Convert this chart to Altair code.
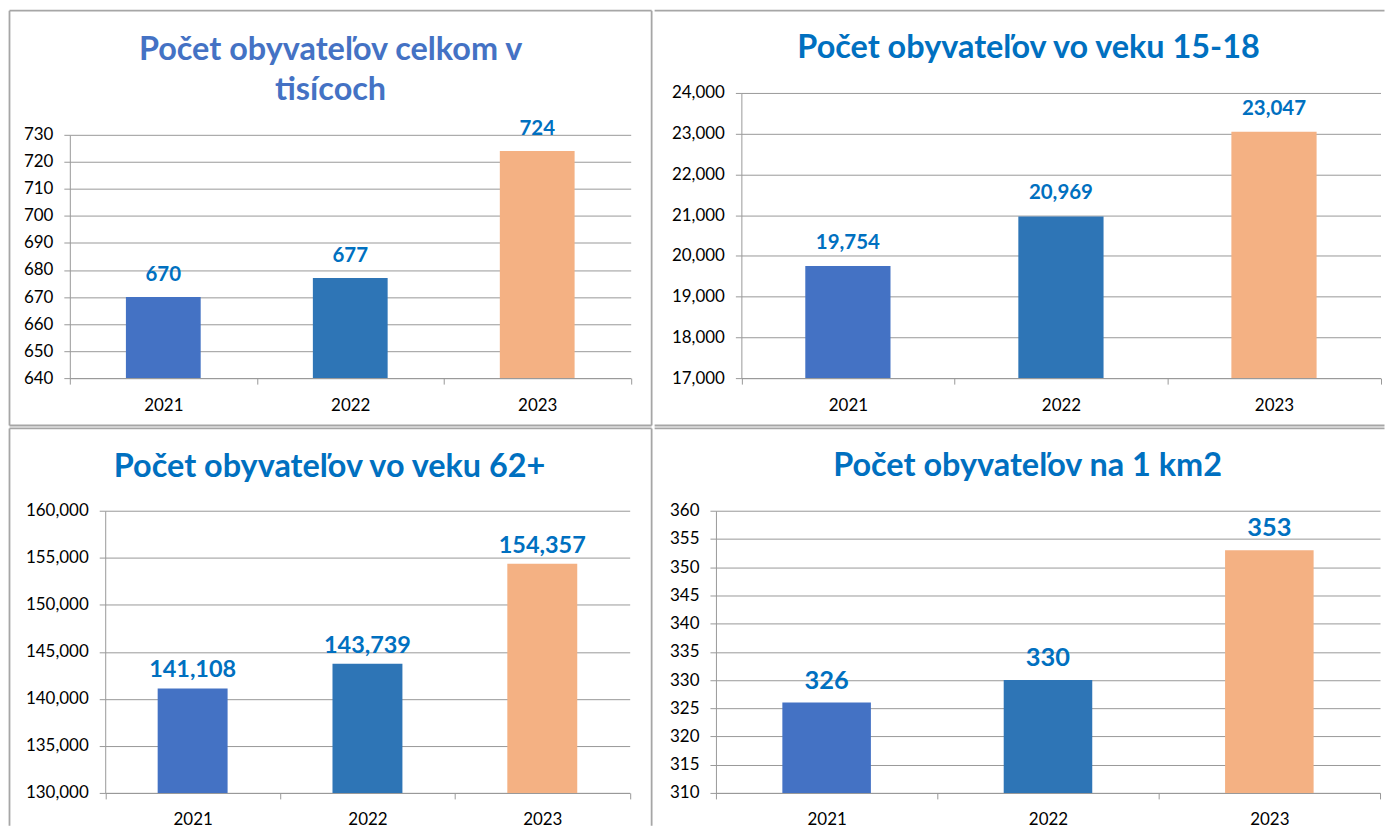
import altair as alt
import pandas as pd

# ---- data -------------------------------------------------------------
years = ["2021", "2022", "2023"]
bar_colors = ["#4472C4", "#2E75B6", "#F4B183"]

title_total = ["Počet obyvateľov celkom v", "tisícoch"]
title_15_18 = "Počet obyvateľov vo veku 15-18"
title_62 = "Počet obyvateľov vo veku 62+"
title_km2 = "Počet obyvateľov na 1 km2"

total_thousands = [670, 677, 724]
age_15_18 = [19754, 20969, 23047]
age_62_plus = [141108, 143739, 154357]
per_km2 = [326, 330, 353]

ticks_total = [640, 650, 660, 670, 680, 690, 700, 710, 720, 730]
ticks_15_18 = [17000, 18000, 19000, 20000, 21000, 22000, 23000, 24000]
ticks_62 = [130000, 135000, 140000, 145000, 150000, 155000, 160000]
ticks_km2 = [310, 315, 320, 325, 330, 335, 340, 345, 350, 355, 360]

FONT = "Lato"
GRID = "#999999"
BORDER = "#A6A6A6"
LABEL_BLUE = "#0070C0"
AX_SIZE = 17


def one_row():
    return alt.Data(values=[{"k": 1}])


def panel(values, ticks, fmt, title, title_color, title_x, title_y, title_size,
          label_size, label_dy, w, h, x_range, y_top, box, borders):
    df = pd.DataFrame({"year": years, "value": values})
    base = alt.Chart(df)
    x = alt.X("year:N", title=None, sort=years,
              scale=alt.Scale(paddingInner=0, paddingOuter=0, range=x_range),
              axis=alt.Axis(labelAngle=0, tickBand="extent", domainColor=GRID,
                            tickColor=GRID, tickSize=6, labelPadding=13,
                            labelFontSize=AX_SIZE, labelFont=FONT,
                            labelColor="#000000", grid=False))
    y = alt.Y("value:Q", title=None,
              scale=alt.Scale(domain=[ticks[0], ticks[-1]], zero=False, nice=False,
                              range=[h, y_top]),
              axis=alt.Axis(values=ticks, tickCount=len(ticks) + 1, format=fmt,
                            grid=True, gridColor=GRID, gridWidth=1,
                            domainColor=GRID, tickColor=GRID, tickSize=6,
                            labelPadding=11, labelFontSize=AX_SIZE, labelFont=FONT,
                            labelColor="#000000", labelOverlap=False,
                            offset=-x_range[0]))
    bars = base.mark_bar(width=alt.RelativeBandSize(0.4), clip=True).encode(
        x=x, y=y,
        color=alt.Color("year:N", scale=alt.Scale(domain=years, range=bar_colors),
                        legend=None),
    )
    labels = base.mark_text(baseline="alphabetic", dy=label_dy, font=FONT,
                            fontWeight="bold", fontSize=label_size,
                            color=LABEL_BLUE).encode(
        x=alt.X("year:N", sort=years), y="value:Q",
        text=alt.Text("value:Q", format=fmt),
    )
    bx0, by0, bx1, by1 = box
    bound = alt.Chart(one_row()).mark_rect(fill="white", fillOpacity=0, strokeWidth=0).encode(
        x=alt.value(bx0), x2=alt.value(bx1), y=alt.value(by0), y2=alt.value(by1))
    layers = [bound]
    for (a, a2, b, b2) in borders:
        layers.append(alt.Chart(one_row()).mark_rule(color=BORDER, strokeWidth=1.8).encode(
            x=alt.value(a), x2=alt.value(a2), y=alt.value(b), y2=alt.value(b2)))
    ttl = alt.Chart(one_row()).mark_text(font=FONT, fontWeight="bold", fontSize=title_size,
                                         color=title_color, align="center",
                                         baseline="middle", lineHeight=40).encode(
        x=alt.value(title_x), y=alt.value(title_y), text=alt.value(title))
    layers += [bars, labels, ttl]
    return alt.layer(*layers).properties(width=w, height=h)


TS = 32.5
# every panel has its view origin at (61.5, 84) inside its cell
# top-left cell 646 x 419
p1 = panel(total_thousands, ticks_total, "d", title_total, "#4472C4", 261.5, -43, TS,
           20.5, -16, 562.5, 286, [0, 562.5], 42,
           (-61.5, -84, 584.5, 335),
           [(-60.5, 583.5, -82.5, -82.5), (-60.5, -60.5, -82.5, 333.5),
            (583.5, 583.5, -82.5, 333.5), (-60.5, 583.5, 333.5, 333.5)])
# top-right cell 732 x 419
p2 = panel(age_15_18, ticks_15_18, ",d", title_15_18, LABEL_BLUE, 313.5, -45, TS,
           20.5, -17, 666.5, 286, [25.5, 666.5], 0,
           (-61.5, -84, 670.5, 335),
           [(-61.5, 670.5, -82.5, -82.5), (-61.5, 670.5, 333.5, 333.5)])
# bottom-left cell 646 x 400
p3 = panel(age_62_plus, ticks_62, ",d", title_62, LABEL_BLUE, 260.5, -44, TS,
           23.5, -11, 561.5, 283, [35.5, 561.5], 0,
           (-61.5, -84, 584.5, 316),
           [(-60.5, 583.5, -82.5, -82.5), (-60.5, -60.5, -82.5, 316),
            (583.5, 583.5, -82.5, 316)])
# bottom-right cell 732 x 400
p4 = panel(per_km2, ticks_km2, "d", title_km2, LABEL_BLUE, 312.5, -45, TS,
           25.5, -14, 666, 283, [0, 666], 0,
           (-61.5, -84, 670.5, 316),
           [(-61.5, 670.5, -82.5, -82.5)])

chart = alt.concat(p1, p2, p3, p4, columns=2, spacing=0, align="none",
                   bounds="full").properties(padding=0, background="white").configure_view(
    stroke="transparent", strokeWidth=0)

chart.save("out.html", embed_options={"renderer": "svg", "actions": False})
